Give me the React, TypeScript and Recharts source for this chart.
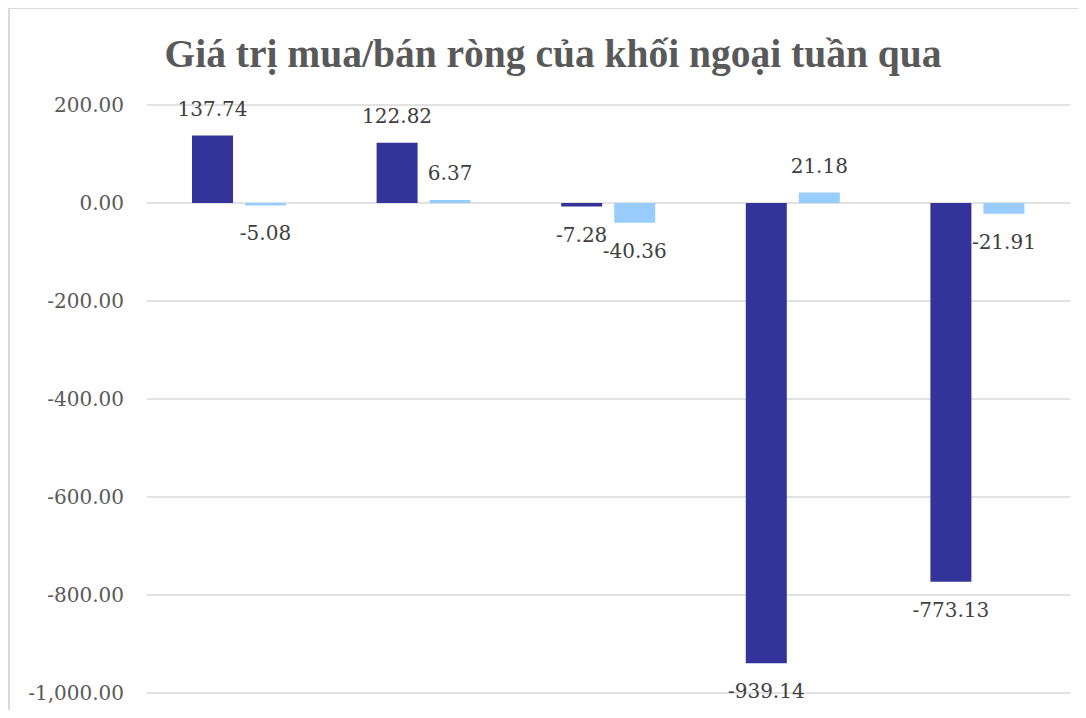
import React from "react";
import { Bar, BarChart, CartesianGrid, LabelList, XAxis, YAxis } from "recharts";

// Net buy/sell value of foreign investors, last week
const categories = ["Thứ 2", "Thứ 3", "Thứ 4", "Thứ 5", "Thứ 6"];
const hoseValues = [137.74, 122.82, -7.28, -939.14, -773.13];
const hnxValues = [-5.08, 6.37, -40.36, 21.18, -21.91];
const yTicks = [-1000, -800, -600, -400, -200, 0, 200];

const chartData = categories.map((name, i) => ({
  name,
  hose: hoseValues[i],
  hnx: hnxValues[i],
}));

const fmt = (v: number) =>
  v.toLocaleString("en-US", { minimumFractionDigits: 2, maximumFractionDigits: 2 });

const ValueLabel = (props: any) => {
  const { x, y, width, height, value } = props;
  const cx = x + width / 2;
  // bar rect may come with negative height for negative values
  const top = Math.min(y, y + height);
  const bottom = Math.max(y, y + height);
  const ty = value >= 0 ? top - 27 : bottom + 28;
  return (
    <text
      x={cx}
      y={ty}
      textAnchor="middle"
      dominantBaseline="central"
      fill="#404040"
      fontSize={20}
      fontFamily="'DejaVu Serif', serif"
    >
      {fmt(value)}
    </text>
  );
};

const App = () => {
  return (
    <div
      style={{
        position: "relative",
        width: 1086,
        height: 718,
        margin: -8,
        overflow: "hidden",
        background: "#fff",
      }}
    >
      <div
        style={{
          position: "absolute",
          left: 8,
          top: 7,
          width: 1120,
          height: 740,
          border: "2px solid #d9d9d9",
          boxSizing: "border-box",
        }}
      />
      <div
        style={{
          position: "absolute",
          left: 10,
          top: 31,
          width: 1086,
          textAlign: "center",
          fontFamily: "'Liberation Serif', serif",
          fontWeight: "bold",
          fontSize: 39.5,
          color: "#595959",
        }}
      >
        Giá trị mua/bán ròng của khối ngoại tuần qua
      </div>
      <div style={{ position: "absolute", left: 0, top: 0 }}>
        <BarChart
          width={1086}
          height={718}
          data={chartData}
          margin={{ top: 105, right: 16, left: 0, bottom: 25 }}
          barGap={12}
          barSize={41}
        >
          <CartesianGrid vertical={false} stroke="#d9d9d9" strokeWidth={1.5} />
          <XAxis dataKey="name" hide />
          <YAxis
            width={147}
            domain={[-1000, 200]}
            ticks={yTicks}
            tickFormatter={fmt}
            axisLine={false}
            tickLine={false}
            tickSize={0}
            tickMargin={23}
            tick={{ fill: "#595959", fontSize: 20, fontFamily: "'DejaVu Serif', serif" }}
          />
          <Bar dataKey="hose" fill="#333399" isAnimationActive={false}>
            <LabelList dataKey="hose" content={ValueLabel} />
          </Bar>
          <Bar dataKey="hnx" fill="#99ccff" isAnimationActive={false}>
            <LabelList dataKey="hnx" content={ValueLabel} />
          </Bar>
        </BarChart>
      </div>
    </div>
  );
};

export default App;
